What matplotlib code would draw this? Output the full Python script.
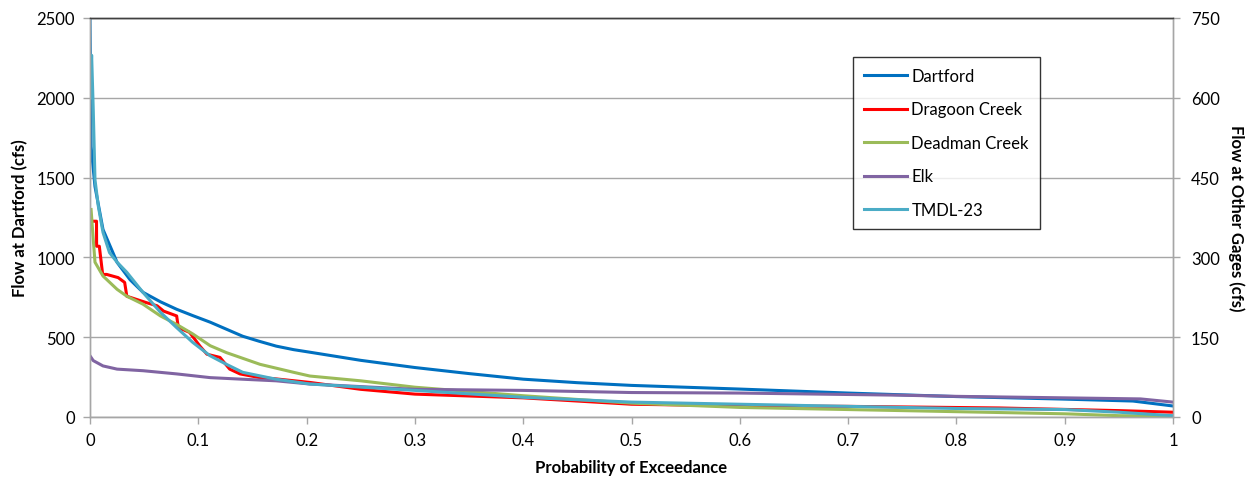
import matplotlib
matplotlib.use("Agg")
import matplotlib.pyplot as plt

plt.rcParams['font.family'] = ['Lato', 'DejaVu Sans']

# Dartford (left axis, cfs)
dart_p = [0, 0.001, 0.0046, 0.012, 0.025, 0.037, 0.049, 0.065, 0.080, 0.095, 0.111, 0.126,
          0.141, 0.156, 0.172, 0.188, 0.203, 0.25, 0.3, 0.35, 0.4, 0.45, 0.5, 0.6, 0.7,
          0.8, 0.9, 0.963, 1.0]
dart_q = [2500, 1694, 1444, 1175, 969, 860, 781, 722, 675, 635, 594, 550,
          506, 475, 444, 422, 406, 355, 310, 272, 237, 215, 198, 175, 150,
          128, 112, 100, 69]

# Other gages (right axis, cfs)
drag_p = [0.003, 0.006, 0.0061, 0.0086, 0.0117, 0.0154, 0.026, 0.032, 0.034, 0.052, 0.062,
          0.068, 0.080, 0.0816, 0.092, 0.1016, 0.108, 0.12, 0.129, 0.1385, 0.157, 0.17,
          0.203, 0.25, 0.3, 0.4, 0.5, 0.6, 0.7, 0.84, 0.95, 1.0]
drag_q = [368, 368, 321, 321, 268, 268, 262, 253, 227, 215, 209,
          199, 190, 168, 159, 133, 118, 112, 90, 81, 74, 72,
          65, 52, 43, 36, 24, 21, 20, 17, 12, 9]

dead_p = [0.001, 0.003, 0.0046, 0.012, 0.025, 0.034, 0.049, 0.065, 0.080, 0.095, 0.111,
          0.126, 0.157, 0.188, 0.203, 0.25, 0.3, 0.4, 0.5, 0.6, 0.7, 0.8, 0.9, 0.95, 1.0]
dead_q = [390, 334, 291, 265, 240, 227, 212, 190, 174, 156, 134,
          121, 99, 84, 77, 68, 56, 40, 26, 18, 14, 10, 6, 2.5, 1.5]

elk_p = [0, 0.003, 0.012, 0.025, 0.049, 0.080, 0.111, 0.141, 0.172, 0.203, 0.3, 0.4,
         0.5, 0.6, 0.748, 0.794, 0.9, 0.97, 1.0]
elk_q = [115, 106, 96, 90, 87, 81, 74, 71, 68, 62, 52, 50,
         46, 45, 41, 39, 36, 34, 28]

tmdl_p = [0, 0.0015, 0.003, 0.0046, 0.0077, 0.012, 0.018, 0.025, 0.034, 0.049, 0.065,
          0.080, 0.095, 0.111, 0.126, 0.141, 0.172, 0.203, 0.3, 0.4, 0.5, 0.6, 0.75,
          0.8, 0.9, 0.95, 1.0]
tmdl_q = [600, 680, 578, 446, 396, 347, 309, 291, 272, 234, 197,
          168, 140, 115, 99, 84, 71, 62, 50, 37, 28, 24, 18,
          16, 14, 9, 2.4]

x_ticks = [0, 0.1, 0.2, 0.3, 0.4, 0.5, 0.6, 0.7, 0.8, 0.9, 1]
x_labels = ['0', '0.1', '0.2', '0.3', '0.4', '0.5', '0.6', '0.7', '0.8', '0.9', '1']
left_ticks = [0, 500, 1000, 1500, 2000, 2500]
right_ticks = [0, 150, 300, 450, 600, 750]

fig = plt.figure(figsize=(12.52, 4.81), dpi=100)
ax = fig.add_axes([90/1252, 1 - 418/481, (1173 - 90)/1252, (418 - 19)/481])
ax2 = ax.twinx()

lw = 2.2
l1, = ax.plot(dart_p, dart_q, color='#0070C0', lw=lw, label='Dartford')
l2, = ax2.plot(drag_p, drag_q, color='#FF0000', lw=lw, label='Dragoon Creek')
l3, = ax2.plot(dead_p, dead_q, color='#9BBB59', lw=lw, label='Deadman Creek')
l4, = ax2.plot(elk_p, elk_q, color='#8064A2', lw=lw, label='Elk')
l5, = ax2.plot(tmdl_p, tmdl_q, color='#4BACC6', lw=lw, label='TMDL-23')

ax.set_xlim(0, 1)
ax.set_ylim(0, 2500)
ax2.set_ylim(0, 750)
ax.set_xticks(x_ticks)
ax.set_xticklabels(x_labels)
ax.set_yticks(left_ticks)
ax2.set_yticks(right_ticks)

ax.grid(axis='y', color='#A6A6A6', lw=1)
ax.set_axisbelow(True)

for a in (ax, ax2):
    for s in a.spines.values():
        s.set_color('#A6A6A6')
        s.set_linewidth(1)
    a.spines['top'].set_color('#404040')
    a.tick_params(colors='#A6A6A6', labelcolor='black', labelsize=12, length=5, width=1)
ax.tick_params(axis='x', pad=6)
ax.tick_params(axis='y', pad=6)
ax2.tick_params(axis='y', pad=8)

ax.set_xlabel('Probability of Exceedance', fontsize=12, fontweight='bold', labelpad=8)
ax.set_ylabel('Flow at Dartford (cfs)', fontsize=12, fontweight='bold', labelpad=6)
ax2.set_ylabel('Flow at Other Gages (cfs)', fontsize=12, fontweight='bold', rotation=-90, labelpad=18)

leg = ax2.legend(handles=[l1, l2, l3, l4, l5], loc='upper left',
                 bbox_to_anchor=((853 - 90)/1083, (418 - 58)/399),
                 borderaxespad=0,
                 frameon=True, fancybox=False, fontsize=12, handlelength=2.6,
                 labelspacing=1.05, borderpad=0.65, handletextpad=0.25)
leg.get_frame().set_edgecolor('black')
leg.get_frame().set_linewidth(1)

fig.savefig('out.png', dpi=100)
